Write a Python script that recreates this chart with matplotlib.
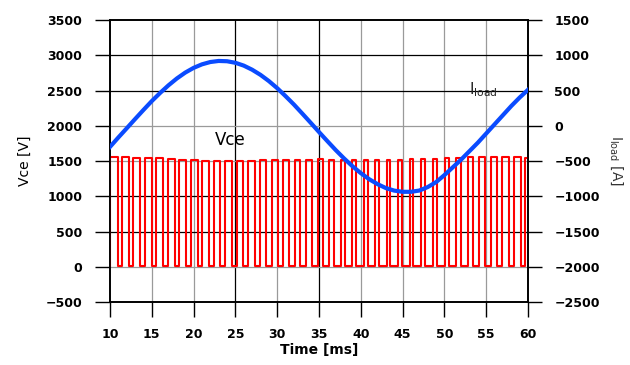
import matplotlib
matplotlib.use("Agg")
import matplotlib.pyplot as plt

# load current [A], read every 1 ms from 10 to 60 ms
t_cur = list(range(10, 61))
i_load = [-300, -166, -36, 95, 224, 350, 466, 574, 671, 754,
          821, 871, 904, 919, 915, 893, 853, 795, 722, 634,
          533, 420, 301, 173, 43, -89, -218, -345, -464, -574,
          -672, -758, -828, -884, -920, -937, -937, -919, -870, -800,
          -700, -590, -480, -360, -240, -110, 20, 150, 280, 400, 510]

# Vce pulses: rising edge [ms], high duration [ms], high level [V]
rise = [10.00, 11.38, 12.76, 14.14, 15.52, 16.90, 18.28, 19.66, 21.04, 22.42,
        23.80, 25.18, 26.56, 27.94, 29.32, 30.70, 32.08, 33.46, 34.84, 36.22,
        37.60, 38.98, 40.36, 41.74, 43.12, 44.50, 45.88, 47.26, 48.64, 50.02,
        51.40, 52.78, 54.16, 55.54, 56.92, 58.30, 59.68]
width = [0.90, 0.88, 0.88, 0.86, 0.86, 0.84, 0.84, 0.82, 0.80, 0.78,
         0.78, 0.76, 0.76, 0.74, 0.72, 0.70, 0.68, 0.66, 0.64, 0.60,
         0.55, 0.50, 0.46, 0.42, 0.40, 0.40, 0.42, 0.46, 0.52, 0.58,
         0.64, 0.70, 0.74, 0.78, 0.82, 0.86, 0.90]
v_high = [1550, 1550, 1545, 1540, 1540, 1530, 1520, 1510, 1500, 1500,
          1500, 1500, 1505, 1510, 1510, 1515, 1520, 1520, 1525, 1520,
          1520, 1515, 1510, 1510, 1515, 1520, 1525, 1530, 1535, 1540,
          1545, 1550, 1555, 1555, 1555, 1550, 1545]
v_low = 10

x_ticks = [10, 15, 20, 25, 30, 35, 40, 45, 50, 55, 60]
v_ticks = [-500, 0, 500, 1000, 1500, 2000, 2500, 3000, 3500]
i_ticks = [-2500, -2000, -1500, -1000, -500, 0, 500, 1000, 1500]

# build the square wave from the edges
tv, vv = [], []
for r, w, h in zip(rise, width, v_high):
    tv += [r, r, r + w, r + w]
    vv += [v_low, h, h, v_low]

plt.rcParams['font.family'] = ['DejaVu Sans']

fig = plt.figure(figsize=(6.3, 3.65), dpi=100)
ax1 = fig.add_axes([0.1746, 0.1726, 0.6635, 0.7726])
ax2 = ax1.twinx()

ax1.plot(tv, vv, color='#ff0000', lw=1.5, zorder=3)
ax2.plot(t_cur, i_load, color='#0a4bff', lw=3.0, zorder=4)

ax1.set_xlim(10, 60)
ax1.set_ylim(-500, 3500)
ax2.set_ylim(-2500, 1500)
ax1.set_xticks(x_ticks)
ax1.set_yticks(v_ticks)
ax2.set_yticks(i_ticks)

# grid: some lines black, others grey
for x in x_ticks[1:-1]:
    c = '#000000' if x in (25, 35) else '#9a9a9a'
    ax1.axvline(x, color=c, lw=0.9, zorder=1)
for y in v_ticks[1:-1]:
    c = '#000000' if y in (500, 1000, 2500, 3000) else '#9a9a9a'
    ax1.axhline(y, color=c, lw=0.9, zorder=1)

ax1.tick_params(axis='y', direction='out', length=11, width=1, pad=9)
ax1.tick_params(axis='x', direction='out', length=11, width=1, pad=8)
ax2.tick_params(axis='y', direction='out', length=10, width=1, pad=9)
for lab in ax1.get_xticklabels() + ax1.get_yticklabels() + ax2.get_yticklabels():
    lab.set_fontweight('bold')
    lab.set_fontsize(9)
for lab in ax2.get_yticklabels():
    lab.set_horizontalalignment('left')

for ax in (ax1, ax2):
    for s in ax.spines.values():
        s.set_linewidth(1.2)

ax1.set_xlabel('Time [ms]', fontsize=10, fontweight='bold', labelpad=1)
ax1.set_ylabel('Vce [V]', fontsize=10, labelpad=10)
ax2.set_ylabel(r'I$_{\mathrm{load}}$ [A]', fontsize=10, rotation=270,
               labelpad=18, color='#333333')

ax1.text(24.4, 1800, 'Vce', fontsize=12, ha='center', va='center', zorder=5)
ax1.text(54.7, 2510, r'I$_{\mathrm{load}}$', fontsize=11, ha='center',
         va='center', zorder=5, color='#222222')

fig.savefig('out.png', dpi=100)
